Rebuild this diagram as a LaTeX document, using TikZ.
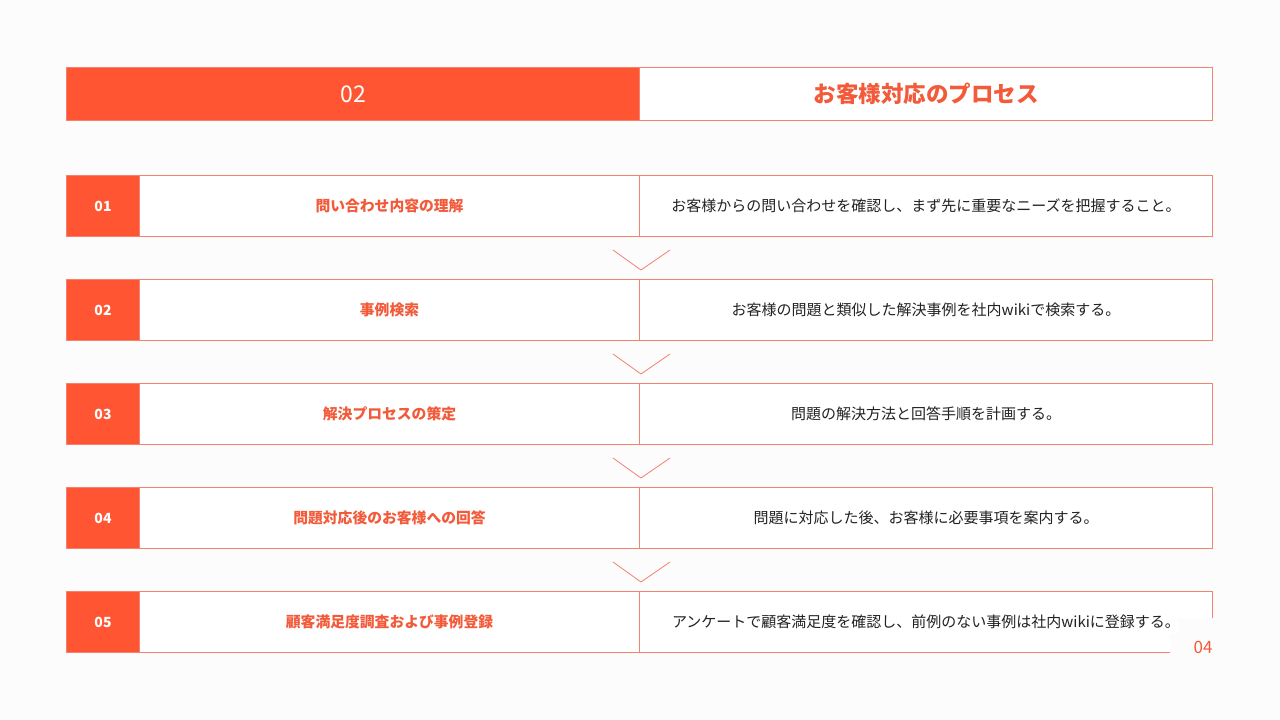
\documentclass[tikz,border=0pt]{standalone}
\usepackage{fontspec}
\setmainfont{Noto Sans CJK JP}
\usetikzlibrary{calc}
\definecolor{accent}{HTML}{FF5533}
\definecolor{edgecol}{HTML}{F2826E}
\definecolor{titlecol}{HTML}{F25A3A}
\definecolor{textcol}{HTML}{222222}
\definecolor{pagebg}{HTML}{FDFCFC}
\tikzset{
  cell/.style={draw=edgecol, line width=1pt, rectangle, inner sep=0pt, anchor=north west, minimum height=61pt},
  numcell/.style={cell, fill=accent, minimum width=73pt, text=white, font=\fontsize{14}{16}\selectfont\bfseries},
  titlecell/.style={cell, fill=white, minimum width=500pt, text=titlecol, font=\fontsize{14.8}{17}\selectfont\bfseries},
  desccell/.style={cell, fill=white, minimum width=573pt, text=textcol, font=\fontsize{15}{17}\selectfont},
  chev/.style={draw=edgecol, line width=0.8pt},
}
\begin{document}
\begin{tikzpicture}[x=1pt,y=-1pt]
\fill[pagebg] (0,0) rectangle (1280,720);
\useasboundingbox (0,0) rectangle (1280,720);
% header
\node[draw=edgecol, line width=1pt, fill=accent, anchor=north west, inner sep=0pt, minimum width=573pt, minimum height=53pt, text=white, font=\fontsize{23}{26}\selectfont] (h1) at (66,67) {02};
\node[draw=edgecol, line width=1pt, fill=white, anchor=north west, inner sep=0pt, minimum width=573pt, minimum height=53pt, text=titlecol, font=\fontsize{22.5}{26}\selectfont\bfseries] (h2) at (639,67) {お客様対応のプロセス};
% rows
\foreach \i/\n/\t/\d in {
  1/01/問い合わせ内容の理解/お客様からの問い合わせを確認し、まず先に重要なニーズを把握すること。,
  2/02/事例検索/お客様の問題と類似した解決事例を社内wikiで検索する。,
  3/03/解決プロセスの策定/問題の解決方法と回答手順を計画する。,
  4/04/問題対応後のお客様への回答/問題に対応した後、お客様に必要事項を案内する。,
  5/05/顧客満足度調査および事例登録/アンケートで顧客満足度を確認し、前例のない事例は社内wikiに登録する。}{
  \pgfmathsetmacro{\ytop}{175+104*(\i-1)}
  \node[numcell] (num\i) at (66,\ytop) {\n};
  \node[titlecell] (title\i) at (139,\ytop) {\t};
  \node[desccell] (desc\i) at (639,\ytop) {\d};
}
% chevrons between rows
\foreach \i in {1,2,3,4}{
  \draw[chev] ($(title\i.south east)+(-27,13)$) -- ($(title\i.south east)+(1,33)$) -- ($(title\i.south east)+(30,13)$);
}
% page number with patch over the corner
\fill[pagebg] (1178,618) -- (1225,618) -- (1225,665) -- (1170,665) -- (1170,633) -- (1178,633) -- cycle;
\node[text=titlecol, font=\fontsize{17}{20}\selectfont, anchor=center] (pagenum) at (1203,647) {04};
\end{tikzpicture}
\end{document}
